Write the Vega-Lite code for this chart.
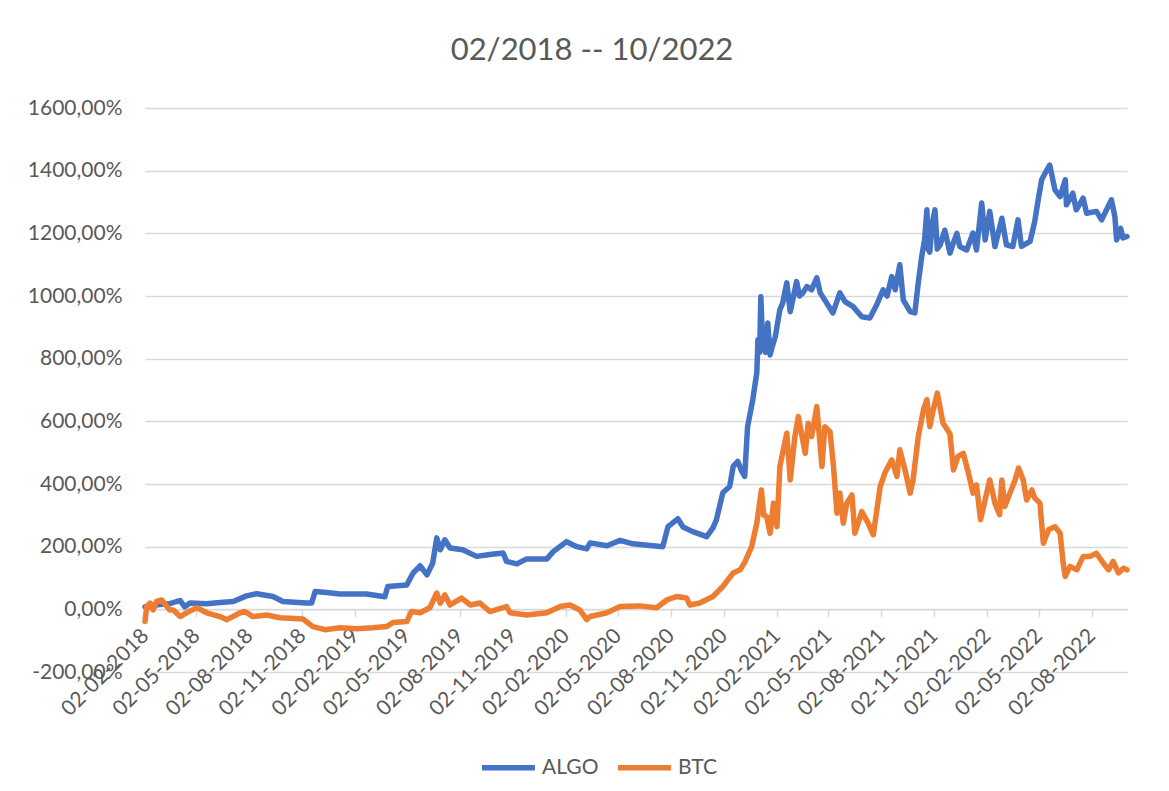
{
  "$schema": "https://vega.github.io/schema/vega-lite/v6.json",
  "autosize": "none",
  "width": 982,
  "height": 564,
  "padding": {"left": 145, "top": 108, "right": 42, "bottom": 119},
  "background": "white",
  "title": {"text": "02/2018 -- 10/2022", "font": "Lato", "fontSize": 31, "fontWeight": "normal", "color": "#595959", "anchor": "middle", "dx": -44, "offset": 30},
  "config": {"view": {"stroke": null}},
  "data": {"values": [
    {"d":"2018-02-02","s":"ALGO","v":8},{"d":"2018-02-05","s":"ALGO","v":5},{"d":"2018-02-14","s":"ALGO","v":12},{"d":"2018-02-28","s":"ALGO","v":15},{"d":"2018-03-17","s":"ALGO","v":18},{"d":"2018-03-29","s":"ALGO","v":25},{"d":"2018-04-04","s":"ALGO","v":28},{"d":"2018-04-12","s":"ALGO","v":8},{"d":"2018-04-21","s":"ALGO","v":20},{"d":"2018-05-20","s":"ALGO","v":18},{"d":"2018-06-12","s":"ALGO","v":22},{"d":"2018-07-05","s":"ALGO","v":25},{"d":"2018-07-28","s":"ALGO","v":43},{"d":"2018-08-15","s":"ALGO","v":50},{"d":"2018-09-12","s":"ALGO","v":41},{"d":"2018-09-29","s":"ALGO","v":25},{"d":"2018-11-09","s":"ALGO","v":20},{"d":"2018-11-18","s":"ALGO","v":20},{"d":"2018-11-24","s":"ALGO","v":57},{"d":"2018-12-14","s":"ALGO","v":54},{"d":"2019-01-06","s":"ALGO","v":49},{"d":"2019-02-21","s":"ALGO","v":49},{"d":"2019-03-25","s":"ALGO","v":40},{"d":"2019-03-30","s":"ALGO","v":73},{"d":"2019-05-02","s":"ALGO","v":78},{"d":"2019-05-13","s":"ALGO","v":116},{"d":"2019-05-25","s":"ALGO","v":139},{"d":"2019-06-06","s":"ALGO","v":110},{"d":"2019-06-16","s":"ALGO","v":148},{"d":"2019-06-23","s":"ALGO","v":228},{"d":"2019-06-29","s":"ALGO","v":190},{"d":"2019-07-07","s":"ALGO","v":222},{"d":"2019-07-16","s":"ALGO","v":196},{"d":"2019-08-07","s":"ALGO","v":190},{"d":"2019-08-31","s":"ALGO","v":169},{"d":"2019-09-23","s":"ALGO","v":175},{"d":"2019-10-16","s":"ALGO","v":180},{"d":"2019-10-22","s":"ALGO","v":153},{"d":"2019-11-09","s":"ALGO","v":145},{"d":"2019-11-26","s":"ALGO","v":161},{"d":"2019-12-31","s":"ALGO","v":161},{"d":"2020-01-11","s":"ALGO","v":184},{"d":"2020-02-03","s":"ALGO","v":216},{"d":"2020-02-21","s":"ALGO","v":200},{"d":"2020-03-09","s":"ALGO","v":193},{"d":"2020-03-15","s":"ALGO","v":212},{"d":"2020-04-13","s":"ALGO","v":203},{"d":"2020-05-06","s":"ALGO","v":220},{"d":"2020-05-28","s":"ALGO","v":209},{"d":"2020-07-19","s":"ALGO","v":200},{"d":"2020-07-28","s":"ALGO","v":264},{"d":"2020-08-14","s":"ALGO","v":289},{"d":"2020-08-23","s":"ALGO","v":263},{"d":"2020-09-09","s":"ALGO","v":248},{"d":"2020-10-03","s":"ALGO","v":232},{"d":"2020-10-14","s":"ALGO","v":260},{"d":"2020-10-20","s":"ALGO","v":286},{"d":"2020-10-31","s":"ALGO","v":372},{"d":"2020-11-12","s":"ALGO","v":392},{"d":"2020-11-18","s":"ALGO","v":456},{"d":"2020-11-26","s":"ALGO","v":472},{"d":"2020-12-03","s":"ALGO","v":440},{"d":"2020-12-08","s":"ALGO","v":424},{"d":"2020-12-13","s":"ALGO","v":583},{"d":"2020-12-22","s":"ALGO","v":669},{"d":"2020-12-29","s":"ALGO","v":755},{"d":"2020-12-31","s":"ALGO","v":860},{"d":"2021-01-03","s":"ALGO","v":820},{"d":"2021-01-05","s":"ALGO","v":998},{"d":"2021-01-07","s":"ALGO","v":900},{"d":"2021-01-09","s":"ALGO","v":871},{"d":"2021-01-13","s":"ALGO","v":820},{"d":"2021-01-17","s":"ALGO","v":914},{"d":"2021-01-21","s":"ALGO","v":812},{"d":"2021-01-25","s":"ALGO","v":840},{"d":"2021-01-30","s":"ALGO","v":870},{"d":"2021-02-07","s":"ALGO","v":956},{"d":"2021-02-12","s":"ALGO","v":978},{"d":"2021-02-19","s":"ALGO","v":1042},{"d":"2021-02-25","s":"ALGO","v":950},{"d":"2021-03-08","s":"ALGO","v":1046},{"d":"2021-03-13","s":"ALGO","v":1000},{"d":"2021-03-19","s":"ALGO","v":1010},{"d":"2021-03-26","s":"ALGO","v":1030},{"d":"2021-04-03","s":"ALGO","v":1020},{"d":"2021-04-12","s":"ALGO","v":1058},{"d":"2021-04-18","s":"ALGO","v":1010},{"d":"2021-04-29","s":"ALGO","v":978},{"d":"2021-05-10","s":"ALGO","v":946},{"d":"2021-05-22","s":"ALGO","v":1010},{"d":"2021-05-31","s":"ALGO","v":982},{"d":"2021-06-14","s":"ALGO","v":966},{"d":"2021-06-29","s":"ALGO","v":934},{"d":"2021-07-13","s":"ALGO","v":930},{"d":"2021-07-25","s":"ALGO","v":972},{"d":"2021-08-05","s":"ALGO","v":1020},{"d":"2021-08-12","s":"ALGO","v":1000},{"d":"2021-08-20","s":"ALGO","v":1062},{"d":"2021-08-26","s":"ALGO","v":1020},{"d":"2021-09-03","s":"ALGO","v":1100},{"d":"2021-09-09","s":"ALGO","v":988},{"d":"2021-09-21","s":"ALGO","v":950},{"d":"2021-09-29","s":"ALGO","v":946},{"d":"2021-10-05","s":"ALGO","v":1042},{"d":"2021-10-11","s":"ALGO","v":1126},{"d":"2021-10-16","s":"ALGO","v":1180},{"d":"2021-10-20","s":"ALGO","v":1275},{"d":"2021-10-22","s":"ALGO","v":1150},{"d":"2021-10-25","s":"ALGO","v":1140},{"d":"2021-10-29","s":"ALGO","v":1230},{"d":"2021-11-03","s":"ALGO","v":1275},{"d":"2021-11-07","s":"ALGO","v":1150},{"d":"2021-11-12","s":"ALGO","v":1163},{"d":"2021-11-20","s":"ALGO","v":1210},{"d":"2021-11-29","s":"ALGO","v":1137},{"d":"2021-12-05","s":"ALGO","v":1170},{"d":"2021-12-11","s":"ALGO","v":1200},{"d":"2021-12-16","s":"ALGO","v":1158},{"d":"2021-12-28","s":"ALGO","v":1147},{"d":"2022-01-08","s":"ALGO","v":1201},{"d":"2022-01-14","s":"ALGO","v":1147},{"d":"2022-01-23","s":"ALGO","v":1297},{"d":"2022-01-29","s":"ALGO","v":1179},{"d":"2022-02-06","s":"ALGO","v":1270},{"d":"2022-02-15","s":"ALGO","v":1158},{"d":"2022-02-27","s":"ALGO","v":1248},{"d":"2022-03-07","s":"ALGO","v":1163},{"d":"2022-03-18","s":"ALGO","v":1158},{"d":"2022-03-27","s":"ALGO","v":1243},{"d":"2022-04-02","s":"ALGO","v":1158},{"d":"2022-04-17","s":"ALGO","v":1174},{"d":"2022-04-25","s":"ALGO","v":1238},{"d":"2022-05-01","s":"ALGO","v":1307},{"d":"2022-05-07","s":"ALGO","v":1371},{"d":"2022-05-16","s":"ALGO","v":1402},{"d":"2022-05-21","s":"ALGO","v":1418},{"d":"2022-05-30","s":"ALGO","v":1339},{"d":"2022-06-08","s":"ALGO","v":1317},{"d":"2022-06-17","s":"ALGO","v":1371},{"d":"2022-06-19","s":"ALGO","v":1291},{"d":"2022-06-30","s":"ALGO","v":1328},{"d":"2022-07-06","s":"ALGO","v":1275},{"d":"2022-07-18","s":"ALGO","v":1312},{"d":"2022-07-24","s":"ALGO","v":1264},{"d":"2022-08-10","s":"ALGO","v":1270},{"d":"2022-08-19","s":"ALGO","v":1243},{"d":"2022-09-05","s":"ALGO","v":1307},{"d":"2022-09-11","s":"ALGO","v":1253},{"d":"2022-09-14","s":"ALGO","v":1179},{"d":"2022-09-21","s":"ALGO","v":1216},{"d":"2022-09-25","s":"ALGO","v":1185},{"d":"2022-10-02","s":"ALGO","v":1190},
    {"d":"2018-02-02","s":"BTC","v":-39},{"d":"2018-02-05","s":"BTC","v":9},{"d":"2018-02-11","s":"BTC","v":20},{"d":"2018-02-16","s":"BTC","v":-2},{"d":"2018-02-22","s":"BTC","v":25},{"d":"2018-03-03","s":"BTC","v":30},{"d":"2018-03-12","s":"BTC","v":9},{"d":"2018-03-17","s":"BTC","v":-2},{"d":"2018-03-23","s":"BTC","v":-2},{"d":"2018-04-04","s":"BTC","v":-23},{"d":"2018-04-21","s":"BTC","v":-5},{"d":"2018-05-03","s":"BTC","v":5},{"d":"2018-05-20","s":"BTC","v":-11},{"d":"2018-06-12","s":"BTC","v":-23},{"d":"2018-06-24","s":"BTC","v":-33},{"d":"2018-07-17","s":"BTC","v":-11},{"d":"2018-07-25","s":"BTC","v":-7},{"d":"2018-08-08","s":"BTC","v":-23},{"d":"2018-09-01","s":"BTC","v":-18},{"d":"2018-09-24","s":"BTC","v":-27},{"d":"2018-11-03","s":"BTC","v":-31},{"d":"2018-11-20","s":"BTC","v":-55},{"d":"2018-12-11","s":"BTC","v":-65},{"d":"2019-01-06","s":"BTC","v":-59},{"d":"2019-02-04","s":"BTC","v":-62},{"d":"2019-03-04","s":"BTC","v":-59},{"d":"2019-03-28","s":"BTC","v":-55},{"d":"2019-04-08","s":"BTC","v":-42},{"d":"2019-05-02","s":"BTC","v":-39},{"d":"2019-05-10","s":"BTC","v":-7},{"d":"2019-05-25","s":"BTC","v":-11},{"d":"2019-06-11","s":"BTC","v":5},{"d":"2019-06-23","s":"BTC","v":52},{"d":"2019-06-29","s":"BTC","v":20},{"d":"2019-07-07","s":"BTC","v":46},{"d":"2019-07-16","s":"BTC","v":14},{"d":"2019-08-05","s":"BTC","v":36},{"d":"2019-08-20","s":"BTC","v":14},{"d":"2019-09-06","s":"BTC","v":20},{"d":"2019-09-23","s":"BTC","v":-7},{"d":"2019-10-22","s":"BTC","v":9},{"d":"2019-10-28","s":"BTC","v":-11},{"d":"2019-11-26","s":"BTC","v":-18},{"d":"2019-12-31","s":"BTC","v":-11},{"d":"2020-01-23","s":"BTC","v":9},{"d":"2020-02-09","s":"BTC","v":14},{"d":"2020-02-26","s":"BTC","v":-2},{"d":"2020-03-09","s":"BTC","v":-33},{"d":"2020-03-15","s":"BTC","v":-23},{"d":"2020-04-13","s":"BTC","v":-11},{"d":"2020-05-06","s":"BTC","v":9},{"d":"2020-06-09","s":"BTC","v":11},{"d":"2020-07-08","s":"BTC","v":5},{"d":"2020-07-26","s":"BTC","v":30},{"d":"2020-08-12","s":"BTC","v":41},{"d":"2020-08-29","s":"BTC","v":36},{"d":"2020-09-04","s":"BTC","v":14},{"d":"2020-09-21","s":"BTC","v":20},{"d":"2020-10-14","s":"BTC","v":41},{"d":"2020-10-31","s":"BTC","v":73},{"d":"2020-11-18","s":"BTC","v":116},{"d":"2020-11-30","s":"BTC","v":126},{"d":"2020-12-08","s":"BTC","v":150},{"d":"2020-12-20","s":"BTC","v":200},{"d":"2020-12-29","s":"BTC","v":275},{"d":"2021-01-06","s":"BTC","v":381},{"d":"2021-01-10","s":"BTC","v":300},{"d":"2021-01-15","s":"BTC","v":296},{"d":"2021-01-21","s":"BTC","v":243},{"d":"2021-01-27","s":"BTC","v":339},{"d":"2021-02-02","s":"BTC","v":264},{"d":"2021-02-07","s":"BTC","v":456},{"d":"2021-02-19","s":"BTC","v":562},{"d":"2021-02-25","s":"BTC","v":413},{"d":"2021-03-05","s":"BTC","v":551},{"d":"2021-03-11","s":"BTC","v":615},{"d":"2021-03-23","s":"BTC","v":498},{"d":"2021-03-28","s":"BTC","v":594},{"d":"2021-04-03","s":"BTC","v":551},{"d":"2021-04-12","s":"BTC","v":647},{"d":"2021-04-21","s":"BTC","v":456},{"d":"2021-04-26","s":"BTC","v":583},{"d":"2021-05-05","s":"BTC","v":567},{"d":"2021-05-11","s":"BTC","v":456},{"d":"2021-05-17","s":"BTC","v":307},{"d":"2021-05-22","s":"BTC","v":371},{"d":"2021-05-28","s":"BTC","v":275},{"d":"2021-06-03","s":"BTC","v":339},{"d":"2021-06-12","s":"BTC","v":365},{"d":"2021-06-17","s":"BTC","v":243},{"d":"2021-06-29","s":"BTC","v":312},{"d":"2021-07-10","s":"BTC","v":275},{"d":"2021-07-19","s":"BTC","v":238},{"d":"2021-07-31","s":"BTC","v":392},{"d":"2021-08-08","s":"BTC","v":435},{"d":"2021-08-20","s":"BTC","v":477},{"d":"2021-08-29","s":"BTC","v":424},{"d":"2021-09-03","s":"BTC","v":509},{"d":"2021-09-12","s":"BTC","v":445},{"d":"2021-09-21","s":"BTC","v":371},{"d":"2021-09-26","s":"BTC","v":413},{"d":"2021-10-05","s":"BTC","v":551},{"d":"2021-10-14","s":"BTC","v":637},{"d":"2021-10-20","s":"BTC","v":669},{"d":"2021-10-25","s":"BTC","v":583},{"d":"2021-10-31","s":"BTC","v":637},{"d":"2021-11-07","s":"BTC","v":690},{"d":"2021-11-17","s":"BTC","v":594},{"d":"2021-11-29","s":"BTC","v":560},{"d":"2021-12-05","s":"BTC","v":445},{"d":"2021-12-13","s":"BTC","v":488},{"d":"2021-12-22","s":"BTC","v":498},{"d":"2021-12-31","s":"BTC","v":435},{"d":"2022-01-08","s":"BTC","v":371},{"d":"2022-01-14","s":"BTC","v":397},{"d":"2022-01-21","s":"BTC","v":286},{"d":"2022-01-29","s":"BTC","v":349},{"d":"2022-02-06","s":"BTC","v":413},{"d":"2022-02-15","s":"BTC","v":339},{"d":"2022-02-23","s":"BTC","v":302},{"d":"2022-02-27","s":"BTC","v":413},{"d":"2022-03-04","s":"BTC","v":328},{"d":"2022-03-13","s":"BTC","v":371},{"d":"2022-03-22","s":"BTC","v":413},{"d":"2022-03-28","s":"BTC","v":451},{"d":"2022-04-05","s":"BTC","v":413},{"d":"2022-04-11","s":"BTC","v":349},{"d":"2022-04-20","s":"BTC","v":381},{"d":"2022-04-25","s":"BTC","v":355},{"d":"2022-05-04","s":"BTC","v":339},{"d":"2022-05-10","s":"BTC","v":211},{"d":"2022-05-19","s":"BTC","v":254},{"d":"2022-05-30","s":"BTC","v":264},{"d":"2022-06-08","s":"BTC","v":243},{"d":"2022-06-14","s":"BTC","v":137},{"d":"2022-06-17","s":"BTC","v":105},{"d":"2022-06-25","s":"BTC","v":137},{"d":"2022-07-07","s":"BTC","v":126},{"d":"2022-07-18","s":"BTC","v":169},{"d":"2022-07-30","s":"BTC","v":169},{"d":"2022-08-10","s":"BTC","v":179},{"d":"2022-08-22","s":"BTC","v":147},{"d":"2022-08-31","s":"BTC","v":126},{"d":"2022-09-08","s":"BTC","v":153},{"d":"2022-09-17","s":"BTC","v":116},{"d":"2022-09-26","s":"BTC","v":131},{"d":"2022-10-02","s":"BTC","v":126}
  ]},
  "encoding": {
    "x": {
      "field": "d", "type": "temporal",
      "scale": {"type": "utc", "domain": [{"year": 2018, "month": 2, "date": 2, "utc": true}, {"year": 2022, "month": 10, "date": 2, "utc": true}]},
      "axis": {
        "title": null,
        "values": [
          {"year": 2018, "month": 2, "date": 2, "utc": true}, {"year": 2018, "month": 5, "date": 2, "utc": true}, {"year": 2018, "month": 8, "date": 2, "utc": true}, {"year": 2018, "month": 11, "date": 2, "utc": true},
          {"year": 2019, "month": 2, "date": 2, "utc": true}, {"year": 2019, "month": 5, "date": 2, "utc": true}, {"year": 2019, "month": 8, "date": 2, "utc": true}, {"year": 2019, "month": 11, "date": 2, "utc": true},
          {"year": 2020, "month": 2, "date": 2, "utc": true}, {"year": 2020, "month": 5, "date": 2, "utc": true}, {"year": 2020, "month": 8, "date": 2, "utc": true}, {"year": 2020, "month": 11, "date": 2, "utc": true},
          {"year": 2021, "month": 2, "date": 2, "utc": true}, {"year": 2021, "month": 5, "date": 2, "utc": true}, {"year": 2021, "month": 8, "date": 2, "utc": true}, {"year": 2021, "month": 11, "date": 2, "utc": true},
          {"year": 2022, "month": 2, "date": 2, "utc": true}, {"year": 2022, "month": 5, "date": 2, "utc": true}, {"year": 2022, "month": 8, "date": 2, "utc": true}
        ],
        "format": "%d-%m-%Y",
        "labelAngle": -45,
        "labelAlign": "right",
        "labelBaseline": "middle",
        "labelFont": "Lato",
        "labelFontSize": 21,
        "labelColor": "#595959",
        "labelPadding": 16,
        "labelOverlap": false,
        "labelFlush": false,
        "grid": false,
        "offset": -62.67,
        "domainColor": "#D9D9D9",
        "domainWidth": 1.5,
        "tickColor": "#D9D9D9",
        "tickWidth": 1.5,
        "tickSize": 7
      }
    },
    "y": {
      "field": "v", "type": "quantitative",
      "scale": {"domain": [-200, 1600], "nice": false, "zero": false},
      "axis": {
        "title": null,
        "values": [-200, 0, 200, 400, 600, 800, 1000, 1200, 1400, 1600],
        "labelExpr": "datum.value + ',00%'",
        "domain": false,
        "ticks": false,
        "tickSize": 0,
        "labelPadding": 23,
        "labelFont": "Lato",
        "labelFontSize": 21,
        "labelColor": "#595959",
        "gridColor": "#D9D9D9",
        "gridWidth": 1.5
      }
    },
    "color": {
      "field": "s", "type": "nominal",
      "scale": {"domain": ["ALGO", "BTC"], "range": ["#4472C4", "#ED7D31"]},
      "legend": {
        "title": null,
        "orient": "none",
        "legendX": 334,
        "legendY": 630,
        "direction": "horizontal",
        "symbolType": "stroke",
        "symbolSize": 2800,
        "symbolStrokeWidth": 5.5,
        "labelFont": "Lato",
        "labelFontSize": 21,
        "labelColor": "#595959",
        "labelOffset": 4,
        "columnPadding": 8
      }
    }
  },
  "layer": [
    {"transform": [{"filter": "datum.s === 'ALGO'"}], "mark": {"type": "line", "strokeWidth": 5.5, "strokeJoin": "round", "strokeCap": "round"}},
    {"transform": [{"filter": "datum.s === 'BTC'"}], "mark": {"type": "line", "strokeWidth": 5.5, "strokeJoin": "round", "strokeCap": "round"}}
  ]
}
